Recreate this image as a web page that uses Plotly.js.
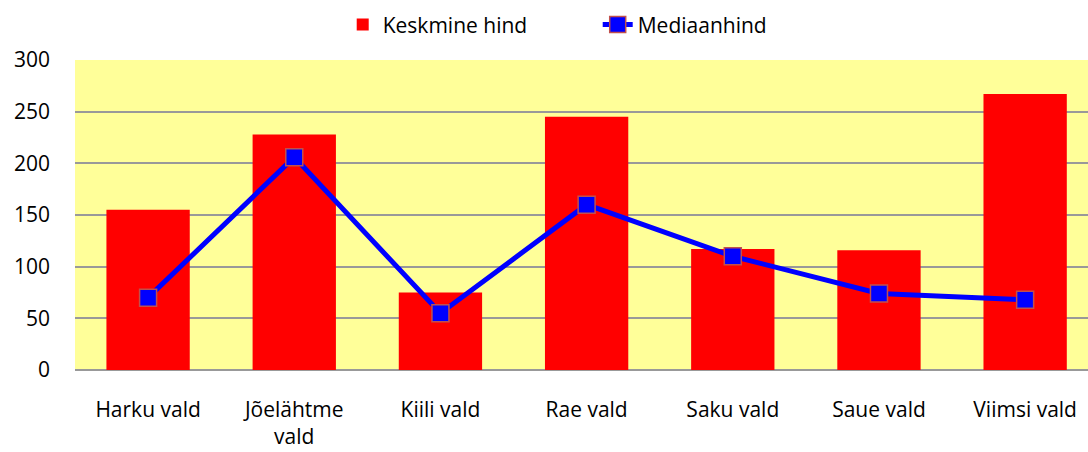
<!DOCTYPE html>
<html>
<head>
<meta charset="utf-8">
<script src="https://cdn.plot.ly/plotly-3.0.1.min.js"></script>
<style>
  body { margin: 0; background: #fff; }
  #chart { width: 1088px; height: 452px; }
</style>
</head>
<body>
<div id="chart"></div>
<script>
// Categories and values
let vallad = ["Harku vald", "Jõelähtme<br>vald", "Kiili vald", "Rae vald", "Saku vald", "Saue vald", "Viimsi vald"];
let keskmineHind = [155, 228, 75, 245, 117, 116, 267];
let mediaanHind = [70, 206, 55, 160, 110, 74, 68];

let trace1 = {
  x: vallad,
  y: keskmineHind,
  type: "bar",
  name: "Keskmine hind",
  marker: { color: "#ff0000" }
};

let trace2 = {
  x: vallad,
  y: mediaanHind,
  type: "scatter",
  mode: "lines+markers",
  name: "Mediaanhind",
  line: { color: "#0000ff", width: 5 },
  marker: { symbol: "square", size: 17, color: "#0000ff", line: { color: "#c0504d", width: 1.5 } }
};

let layout = {
  width: 1088,
  height: 452,
  margin: { l: 75, r: 0, t: 60, b: 82, autoexpand: false },
  paper_bgcolor: "#ffffff",
  plot_bgcolor: "#ffff99",
  font: { family: "'Open Sans', sans-serif", size: 21, color: "#000" },
  bargap: 0.43,
  showlegend: true,
  legend: {
    orientation: "h",
    x: 0.516, xanchor: "center",
    y: 1.113, yanchor: "middle",
    font: { size: 21 },
    entrywidth: 210,
    entrywidthmode: "pixels",
    traceorder: "normal"
  },
  xaxis: {
    range: [-0.5, 6.43],
    showgrid: false,
    ticks: "",
    tickfont: { size: 21 },
    showline: false,
    ticklabelstandoff: 25
  },
  yaxis: {
    range: [0, 300],
    dtick: 50,
    showgrid: true,
    gridcolor: "#999999",
    gridwidth: 2,
    zeroline: true,
    zerolinecolor: "#999999",
    zerolinewidth: 2,
    tickfont: { size: 21 },
    ticks: "",
    ticklabelstandoff: 24
  }
};

Plotly.newPlot("chart", [trace1, trace2], layout, { displayModeBar: false });
</script>
</body>
</html>
